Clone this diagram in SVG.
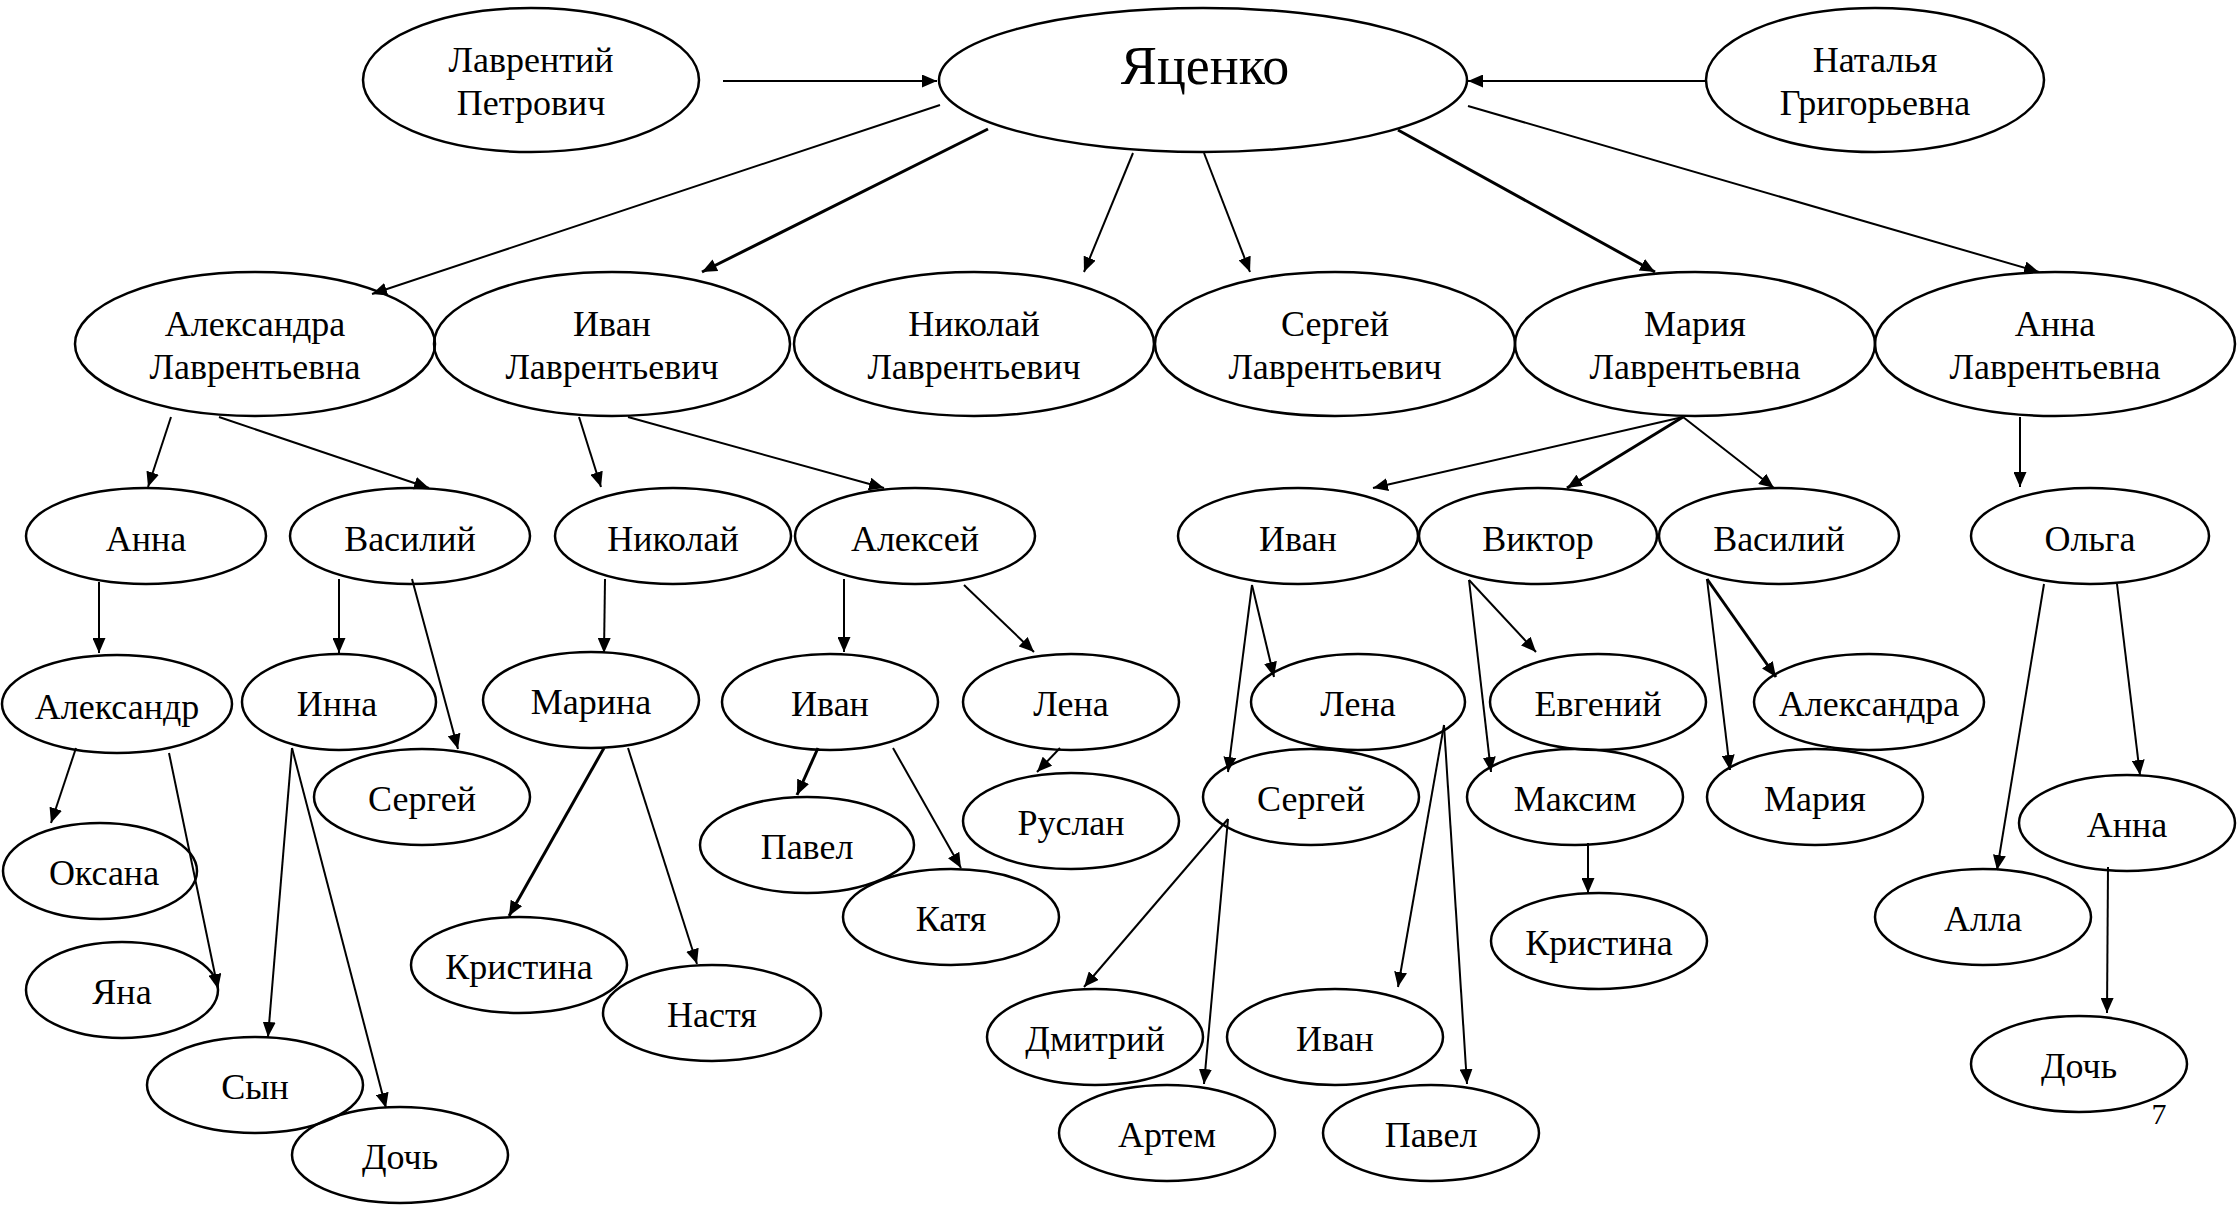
<svg xmlns="http://www.w3.org/2000/svg" width="2237" height="1205" viewBox="0 0 2237 1205">
<defs>
<marker id="ah" viewBox="0 0 15 13" refX="15" refY="6.5" markerWidth="15" markerHeight="13" markerUnits="userSpaceOnUse" orient="auto">
<path d="M0,0 L15,6.5 L0,13 z" fill="#000"/>
</marker>
<style>
ellipse{fill:none;stroke:#000;stroke-width:2.5}
text{font-family:"Liberation Serif","Times New Roman",serif;font-size:36px;fill:#000;text-anchor:middle}
.big{font-size:54px}
.pg{font-size:30px}
#connectors line{stroke:#000;stroke-width:2;marker-end:url(#ah)}
#connectors line.t{stroke-width:3}
</style>
</defs>
<rect width="2237" height="1205" fill="#fff"/>
<g id="connectors">
<line x1="723" y1="81" x2="937" y2="81"/>
<line x1="1706" y1="81" x2="1468" y2="81"/>
<line x1="940" y1="105" x2="372" y2="294"/>
<line class="t" x1="988" y1="129" x2="702" y2="272"/>
<line x1="1133" y1="153" x2="1084" y2="272"/>
<line x1="1204" y1="153" x2="1250" y2="272"/>
<line class="t" x1="1398" y1="130" x2="1655" y2="272"/>
<line x1="1468" y1="106" x2="2039" y2="272"/>
<line x1="171" y1="417" x2="148" y2="487"/>
<line x1="219" y1="417" x2="429" y2="488"/>
<line x1="579" y1="417" x2="601" y2="487"/>
<line x1="628" y1="417" x2="884" y2="488"/>
<line x1="1683" y1="417" x2="1373" y2="488"/>
<line class="t" x1="1683" y1="417" x2="1567" y2="488"/>
<line x1="1683" y1="417" x2="1774" y2="488"/>
<line x1="2020" y1="417" x2="2020" y2="487"/>
<line x1="99" y1="582" x2="99" y2="653"/>
<line x1="339" y1="579" x2="339" y2="653"/>
<line x1="412" y1="579" x2="458" y2="749"/>
<line x1="605" y1="579" x2="604" y2="653"/>
<line x1="844" y1="579" x2="844" y2="652"/>
<line x1="964" y1="585" x2="1034" y2="652"/>
<line x1="1252" y1="585" x2="1274" y2="677"/>
<line x1="1252" y1="585" x2="1228" y2="772"/>
<line x1="1469" y1="580" x2="1536" y2="652"/>
<line x1="1469" y1="580" x2="1491" y2="772"/>
<line class="t" x1="1707" y1="579" x2="1776" y2="677"/>
<line x1="1707" y1="579" x2="1730" y2="770"/>
<line x1="2044" y1="584" x2="1997" y2="870"/>
<line x1="2117" y1="584" x2="2140" y2="775"/>
<line x1="76" y1="748" x2="51" y2="823"/>
<line x1="169" y1="753" x2="218" y2="989"/>
<line x1="292" y1="748" x2="268" y2="1037"/>
<line x1="292" y1="748" x2="386" y2="1108"/>
<line class="t" x1="604" y1="748" x2="509" y2="916"/>
<line x1="628" y1="748" x2="697" y2="964"/>
<line class="t" x1="818" y1="748" x2="797" y2="795"/>
<line x1="893" y1="748" x2="961" y2="868"/>
<line x1="1060" y1="748" x2="1037" y2="772"/>
<line x1="1444" y1="725" x2="1398" y2="987"/>
<line x1="1444" y1="725" x2="1467" y2="1084"/>
<line x1="1228" y1="819" x2="1084" y2="987"/>
<line x1="1228" y1="819" x2="1204" y2="1084"/>
<line x1="1588" y1="843" x2="1588" y2="893"/>
<line x1="2108" y1="867" x2="2107" y2="1013"/>
</g>
<g id="n_lavr"><ellipse cx="531" cy="80" rx="168" ry="72"/><text x="531" y="72">Лаврентий</text><text x="531" y="115">Петрович</text></g>
<g id="n_yats"><ellipse cx="1203" cy="80" rx="264" ry="72"/><text class="big" x="1205" y="84">Яценко</text></g>
<g id="n_nat"><ellipse cx="1875" cy="80" rx="169" ry="72"/><text x="1875" y="72">Наталья</text><text x="1875" y="115">Григорьевна</text></g>
<g id="n_alexandraL"><ellipse cx="255" cy="344" rx="180" ry="72"/><text x="255" y="336">Александра</text><text x="255" y="379">Лаврентьевна</text></g>
<g id="n_ivanL"><ellipse cx="612" cy="344" rx="178" ry="72"/><text x="612" y="336">Иван</text><text x="612" y="379">Лаврентьевич</text></g>
<g id="n_nikolayL"><ellipse cx="974" cy="344" rx="180" ry="72"/><text x="974" y="336">Николай</text><text x="974" y="379">Лаврентьевич</text></g>
<g id="n_sergeyL"><ellipse cx="1335" cy="344" rx="180" ry="72"/><text x="1335" y="336">Сергей</text><text x="1335" y="379">Лаврентьевич</text></g>
<g id="n_mariyaL"><ellipse cx="1695" cy="344" rx="180" ry="72"/><text x="1695" y="336">Мария</text><text x="1695" y="379">Лаврентьевна</text></g>
<g id="n_annaL"><ellipse cx="2055" cy="344" rx="180" ry="72"/><text x="2055" y="336">Анна</text><text x="2055" y="379">Лаврентьевна</text></g>
<g id="n_anna1"><ellipse cx="146" cy="536" rx="120" ry="48"/><text x="146" y="551">Анна</text></g>
<g id="n_vasiliy1"><ellipse cx="410" cy="536" rx="120" ry="48"/><text x="410" y="551">Василий</text></g>
<g id="n_nikolay"><ellipse cx="673" cy="536" rx="118" ry="48"/><text x="673" y="551">Николай</text></g>
<g id="n_aleksey"><ellipse cx="915" cy="536" rx="120" ry="48"/><text x="915" y="551">Алексей</text></g>
<g id="n_ivan2"><ellipse cx="1298" cy="536" rx="120" ry="48"/><text x="1298" y="551">Иван</text></g>
<g id="n_viktor"><ellipse cx="1538" cy="536" rx="119" ry="48"/><text x="1538" y="551">Виктор</text></g>
<g id="n_vasiliy2"><ellipse cx="1779" cy="536" rx="120" ry="48"/><text x="1779" y="551">Василий</text></g>
<g id="n_olga"><ellipse cx="2090" cy="536" rx="119" ry="48"/><text x="2090" y="551">Ольга</text></g>
<g id="n_aleksandr"><ellipse cx="117" cy="704" rx="115" ry="49"/><text x="117" y="719">Александр</text></g>
<g id="n_inna"><ellipse cx="339" cy="702" rx="97" ry="48"/><text x="337" y="716">Инна</text></g>
<g id="n_sergey1"><ellipse cx="422" cy="797" rx="108" ry="48"/><text x="422" y="811">Сергей</text></g>
<g id="n_marina"><ellipse cx="591" cy="700" rx="108" ry="48"/><text x="591" y="714">Марина</text></g>
<g id="n_ivan3"><ellipse cx="830" cy="702" rx="108" ry="48"/><text x="830" y="716">Иван</text></g>
<g id="n_lena1"><ellipse cx="1071" cy="702" rx="108" ry="48"/><text x="1071" y="716">Лена</text></g>
<g id="n_ruslan"><ellipse cx="1071" cy="821" rx="108" ry="48"/><text x="1071" y="835">Руслан</text></g>
<g id="n_pavel1"><ellipse cx="807" cy="845" rx="107" ry="48"/><text x="807" y="859">Павел</text></g>
<g id="n_katya"><ellipse cx="951" cy="917" rx="108" ry="48"/><text x="951" y="931">Катя</text></g>
<g id="n_oksana"><ellipse cx="100" cy="871" rx="97" ry="48"/><text x="104" y="885">Оксана</text></g>
<g id="n_yana"><ellipse cx="122" cy="990" rx="96" ry="48"/><text x="122" y="1004">Яна</text></g>
<g id="n_syn"><ellipse cx="255" cy="1085" rx="108" ry="48"/><text x="255" y="1099">Сын</text></g>
<g id="n_doch1"><ellipse cx="400" cy="1155" rx="108" ry="48"/><text x="400" y="1169">Дочь</text></g>
<g id="n_kristina1"><ellipse cx="519" cy="965" rx="108" ry="48"/><text x="519" y="979">Кристина</text></g>
<g id="n_nastya"><ellipse cx="712" cy="1013" rx="109" ry="48"/><text x="712" y="1027">Настя</text></g>
<g id="n_lena2"><ellipse cx="1358" cy="702" rx="107" ry="48"/><text x="1358" y="716">Лена</text></g>
<g id="n_sergey2"><ellipse cx="1311" cy="797" rx="108" ry="48"/><text x="1311" y="811">Сергей</text></g>
<g id="n_dmitriy"><ellipse cx="1095" cy="1037" rx="108" ry="48"/><text x="1095" y="1051">Дмитрий</text></g>
<g id="n_ivan4"><ellipse cx="1335" cy="1037" rx="108" ry="48"/><text x="1335" y="1051">Иван</text></g>
<g id="n_artem"><ellipse cx="1167" cy="1133" rx="108" ry="48"/><text x="1167" y="1147">Артем</text></g>
<g id="n_pavel2"><ellipse cx="1431" cy="1133" rx="108" ry="48"/><text x="1431" y="1147">Павел</text></g>
<g id="n_evgeniy"><ellipse cx="1598" cy="702" rx="108" ry="48"/><text x="1598" y="716">Евгений</text></g>
<g id="n_maksim"><ellipse cx="1575" cy="797" rx="108" ry="48"/><text x="1575" y="811">Максим</text></g>
<g id="n_kristina2"><ellipse cx="1599" cy="941" rx="108" ry="48"/><text x="1599" y="955">Кристина</text></g>
<g id="n_aleksandra2"><ellipse cx="1869" cy="702" rx="115" ry="48"/><text x="1869" y="716">Александра</text></g>
<g id="n_mariya2"><ellipse cx="1815" cy="797" rx="108" ry="48"/><text x="1815" y="811">Мария</text></g>
<g id="n_anna2"><ellipse cx="2127" cy="823" rx="108" ry="48"/><text x="2127" y="837">Анна</text></g>
<g id="n_alla"><ellipse cx="1983" cy="917" rx="108" ry="48"/><text x="1983" y="931">Алла</text></g>
<g id="n_doch2"><ellipse cx="2079" cy="1064" rx="108" ry="48"/><text x="2079" y="1078">Дочь</text></g>
<text class="pg" x="2159" y="1124">7</text>
</svg>
